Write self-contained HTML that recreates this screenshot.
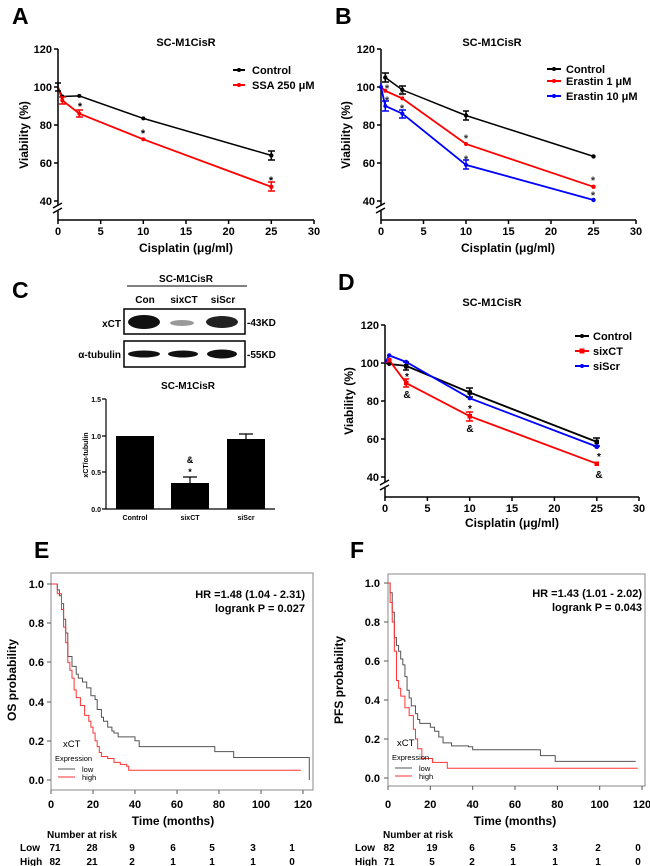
<!DOCTYPE html>
<html><head><meta charset="utf-8"><style>
html,body{margin:0;padding:0;background:#fff}
svg{display:block;font-family:"Liberation Sans",Arial,sans-serif}
.b{font-weight:bold}
.t{font-size:11px;font-weight:bold}
.n{vector-effect:non-scaling-stroke;fill:none}
</style></head><body>
<svg width="650" height="866" viewBox="0 0 650 866" xmlns="http://www.w3.org/2000/svg">
<g class="b" font-size="23">
<text x="12" y="24">A</text><text x="335" y="24">B</text>
<text x="12" y="298">C</text><text x="338" y="290">D</text>
<text x="34" y="558">E</text><text x="350" y="558">F</text>
</g>

<!-- ===== Panel A ===== -->
<g stroke="#000" stroke-width="1.5" fill="none">
<path d="M58,49 V205 M58,211 V220 H314"/>
<path d="M54,49H58 M54,87H58 M54,125H58 M54,163H58 M54,201H58"/>
<path d="M58,220v4 M100.7,220v4 M143.3,220v4 M186,220v4 M228.6,220v4 M271.3,220v4 M314,220v4"/>
<path d="M53,208l9,-5 M53,213l9,-5"/>
</g>
<g class="t" text-anchor="end"><text x="52" y="53">120</text><text x="52" y="91">100</text><text x="52" y="129">80</text><text x="52" y="167">60</text><text x="52" y="205">40</text></g>
<g class="t" text-anchor="middle"><text x="58" y="235">0</text><text x="100.7" y="235">5</text><text x="143.3" y="235">10</text><text x="186" y="235">15</text><text x="228.6" y="235">20</text><text x="271.3" y="235">25</text><text x="314" y="235">30</text></g>
<text class="b" font-size="12" x="186" y="252" text-anchor="middle">Cisplatin (μg/ml)</text>
<text class="b" font-size="12" transform="translate(28,135) rotate(-90)" text-anchor="middle">Viability (%)</text>
<text class="b" font-size="11" x="186" y="46" text-anchor="middle">SC-M1CisR</text>
<polyline points="58,87 62.3,96.5 79.3,95.9 143.3,118.4 271.3,155.4" stroke="#000" stroke-width="1.5" fill="none"/>
<polyline points="58,87 62.3,100.3 79.3,113.6 143.3,139.3 271.3,186.8" stroke="#f00" stroke-width="1.8" fill="none"/>
<g stroke="#000" stroke-width="1.5"><path d="M58,83V91 M55,83H61 M55,91H61 M271.3,151V160 M268,151H275 M268,160H275"/></g>
<g fill="#000"><circle cx="62.3" cy="96.5" r="2"/><circle cx="79.3" cy="95.9" r="2"/><circle cx="143.3" cy="118.4" r="2"/><circle cx="271.3" cy="155.4" r="2.2"/></g>
<g stroke="#f00" stroke-width="1.5"><path d="M62.3,97V104 M59,97H66 M59,104H66 M79.3,110V117 M76,110H83 M76,117H83 M271.3,182V191 M268,182H275 M268,191H275"/></g>
<g fill="#f00"><circle cx="62.3" cy="100.3" r="2"/><circle cx="79.3" cy="113.6" r="2"/><circle cx="143.3" cy="139.3" r="2"/><circle cx="271.3" cy="186.8" r="2.2"/></g>
<g class="b" font-size="11" text-anchor="middle"><text x="80" y="110">*</text><text x="143" y="137">*</text><text x="271" y="184">*</text></g>
<path d="M233,70H245" stroke-width="2" stroke="#000"/><path d="M233,85H245" stroke-width="2" stroke="#f00"/>
<circle cx="239" cy="70" r="2"/><circle cx="239" cy="85" r="2" fill="#f00"/>
<g class="t"><text x="252" y="74">Control</text><text x="252" y="89">SSA 250 μM</text></g>

<!-- ===== Panel B ===== -->
<g stroke="#000" stroke-width="1.5" fill="none">
<path d="M381,49 V205 M381,211 V220 H636"/>
<path d="M377,49H381 M377,87H381 M377,125H381 M377,163H381 M377,201H381"/>
<path d="M381,220v4 M423.5,220v4 M466,220v4 M508.5,220v4 M551,220v4 M593.5,220v4 M636,220v4"/>
<path d="M376,208l9,-5 M376,213l9,-5"/>
</g>
<g class="t" text-anchor="end"><text x="375" y="53">120</text><text x="375" y="91">100</text><text x="375" y="129">80</text><text x="375" y="167">60</text><text x="375" y="205">40</text></g>
<g class="t" text-anchor="middle"><text x="381" y="235">0</text><text x="423.5" y="235">5</text><text x="466" y="235">10</text><text x="508.5" y="235">15</text><text x="551" y="235">20</text><text x="593.5" y="235">25</text><text x="636" y="235">30</text></g>
<text class="b" font-size="12" x="508" y="252" text-anchor="middle">Cisplatin (μg/ml)</text>
<text class="b" font-size="12" transform="translate(350,135) rotate(-90)" text-anchor="middle">Viability (%)</text>
<text class="b" font-size="11" x="492" y="46" text-anchor="middle">SC-M1CisR</text>
<polyline points="385.3,77.5 402.3,89.9 466,115.5 593.5,156.4" stroke="#000" stroke-width="1.5" fill="none"/>
<polyline points="381,87 385.3,90.8 402.3,98.4 466,144 593.5,186.8" stroke="#f00" stroke-width="1.8" fill="none"/>
<polyline points="381,87 385.3,106 402.3,113.6 466,164.9 593.5,200" stroke="#00f" stroke-width="1.8" fill="none"/>
<g stroke="#000" stroke-width="1.5"><path d="M385.3,73V82 M382,73H389 M382,82H389 M402.3,86V94 M399,86H406 M399,94H406 M466,111V120 M463,111H469 M463,120H469"/></g>
<g fill="#000"><circle cx="385.3" cy="77.5" r="2.2"/><circle cx="402.3" cy="89.9" r="2.2"/><circle cx="466" cy="115.5" r="2.2"/><circle cx="593.5" cy="156.4" r="2.2"/></g>
<g fill="#f00"><circle cx="385.3" cy="90.8" r="2"/><circle cx="402.3" cy="98.4" r="2"/><circle cx="466" cy="144" r="2"/><circle cx="593.5" cy="186.8" r="2.2"/></g>
<g stroke="#00f" stroke-width="1.5"><path d="M381,83V90 M385.3,101V111 M382,101H389 M382,111H389 M402.3,110V118 M399,110H406 M399,118H406 M466,160V169 M463,160H469 M463,169H469"/></g>
<g fill="#00f"><circle cx="381" cy="87" r="2"/><circle cx="385.3" cy="106" r="2"/><circle cx="402.3" cy="113.6" r="2"/><circle cx="466" cy="164.9" r="2"/><circle cx="593.5" cy="200" r="2.2"/></g>
<g class="b" font-size="11" text-anchor="middle" fill="#333"><text x="387" y="92">*</text><text x="387" y="104">*</text><text x="402" y="99">*</text><text x="402" y="112">*</text><text x="466" y="142">*</text><text x="466" y="163">*</text><text x="593" y="184">*</text><text x="593" y="199">*</text></g>
<path d="M547,69H561" stroke="#000" stroke-width="2"/><path d="M547,81H561" stroke="#f00" stroke-width="2"/><path d="M547,96H561" stroke="#00f" stroke-width="2"/>
<circle cx="554" cy="69" r="2"/><circle cx="554" cy="81" r="2" fill="#f00"/><circle cx="554" cy="96" r="2" fill="#00f"/>
<g class="t"><text x="566" y="73">Control</text><text x="566" y="85">Erastin 1 μM</text><text x="566" y="100">Erastin 10 μM</text></g>

<!-- ===== Panel C ===== -->
<text class="b" font-size="10" x="186" y="282" text-anchor="middle">SC-M1CisR</text>
<path d="M127,286H247" stroke="#000" stroke-width="1"/>
<g class="b" font-size="10" text-anchor="middle"><text x="145" y="303">Con</text><text x="184" y="303">sixCT</text><text x="223" y="303">siScr</text></g>
<rect x="124" y="309" width="121" height="25" fill="#fff" stroke="#000" stroke-width="1.5"/>
<rect x="124" y="341" width="121" height="26" fill="#fff" stroke="#000" stroke-width="1.5"/>
<ellipse cx="144" cy="322" rx="16" ry="7" fill="#111"/>
<ellipse cx="182" cy="323" rx="12" ry="3" fill="#999"/>
<ellipse cx="222" cy="322" rx="16" ry="6" fill="#222"/>
<ellipse cx="144" cy="354" rx="16" ry="3.5" fill="#111"/>
<ellipse cx="183" cy="354" rx="15" ry="3.5" fill="#111"/>
<ellipse cx="222" cy="354" rx="15" ry="4.5" fill="#111"/>
<g class="b" font-size="10"><text x="121" y="327" text-anchor="end">xCT</text><text x="121" y="358" text-anchor="end">α-tubulin</text><text x="247" y="326">-43KD</text><text x="247" y="358">-55KD</text></g>
<text class="b" font-size="10" x="188" y="389" text-anchor="middle">SC-M1CisR</text>
<path d="M106,399V509H275 M102,399H106 M102,436H106 M102,472H106 M102,509H106" stroke="#000" stroke-width="1.2" fill="none"/>
<g class="b" font-size="7" text-anchor="end"><text x="101" y="402">1.5</text><text x="101" y="439">1.0</text><text x="101" y="475">0.5</text><text x="101" y="512">0.0</text></g>
<text class="b" font-size="7" transform="translate(88,455) rotate(-90)" text-anchor="middle">xCT/α-tubulin</text>
<rect x="116" y="436" width="38" height="73"/>
<rect x="171" y="483" width="38" height="26"/>
<rect x="227" y="439" width="38" height="70"/>
<path d="M190,483V477 M183,477H197 M246,439V434 M239,434H253" stroke="#000" stroke-width="1.2"/>
<g class="b" font-size="9" text-anchor="middle"><text x="190" y="463">&amp;</text><text x="190" y="475">*</text></g>
<g class="b" font-size="7" text-anchor="middle"><text x="135" y="520">Control</text><text x="190" y="520">sixCT</text><text x="246" y="520">siScr</text></g>

<!-- ===== Panel D ===== -->
<g stroke="#000" stroke-width="1.5" fill="none">
<path d="M385,325 V482 M385,488 V497 H639"/>
<path d="M381,325H385 M381,363H385 M381,401H385 M381,439H385 M381,477H385"/>
<path d="M385,497v4 M427.4,497v4 M469.7,497v4 M512,497v4 M554.4,497v4 M596.8,497v4 M639,497v4"/>
<path d="M380,485l9,-5 M380,490l9,-5"/>
</g>
<g class="t" text-anchor="end"><text x="379" y="329">120</text><text x="379" y="367">100</text><text x="379" y="405">80</text><text x="379" y="443">60</text><text x="379" y="481">40</text></g>
<g class="t" text-anchor="middle"><text x="385" y="512">0</text><text x="427.4" y="512">5</text><text x="469.7" y="512">10</text><text x="512" y="512">15</text><text x="554.4" y="512">20</text><text x="596.8" y="512">25</text><text x="639" y="512">30</text></g>
<text class="b" font-size="12" x="512" y="527" text-anchor="middle">Cisplatin (μg/ml)</text>
<text class="b" font-size="12" transform="translate(353,401) rotate(-90)" text-anchor="middle">Viability (%)</text>
<text class="b" font-size="11" x="492" y="306" text-anchor="middle">SC-M1CisR</text>
<polyline points="385,363 389.2,364 406.2,365.9 469.7,392.5 596.8,441.9" stroke="#000" stroke-width="1.8" fill="none"/>
<polyline points="385,363 389.2,360.2 406.2,383 469.7,416.2 596.8,463.7" stroke="#f00" stroke-width="1.8" fill="none"/>
<polyline points="385,363 389.2,355.4 406.2,362 469.7,398.2 596.8,446.6" stroke="#00f" stroke-width="1.8" fill="none"/>
<g stroke="#000" stroke-width="1.5"><path d="M406.2,362V370 M403,362H409 M403,370H409 M469.7,388V397 M466,388H473 M466,397H473 M596.8,438V446 M593,438H600 M593,446H600"/></g>
<g fill="#000"><circle cx="389.2" cy="364" r="2"/><rect x="404" y="364" width="4.5" height="4.5"/><rect x="467.5" y="390.3" width="4.5" height="4.5"/><rect x="594.5" y="439.7" width="4.5" height="4.5"/></g>
<g stroke="#f00" stroke-width="1.5"><path d="M406.2,379V387 M403,379H409 M403,387H409 M469.7,412V421 M466,412H473 M466,421H473"/></g>
<g fill="#f00"><rect x="387" y="358" width="4.5" height="4.5"/><rect x="404" y="380.8" width="4.5" height="4.5"/><rect x="467.5" y="414" width="4.5" height="4.5"/><rect x="594.5" y="461.5" width="4.5" height="4.5"/></g>
<g fill="#00f"><circle cx="389.2" cy="355.4" r="2.2"/><circle cx="406.2" cy="362" r="2.2"/><circle cx="469.7" cy="398.2" r="2.2"/><circle cx="596.8" cy="446.6" r="2.5"/></g>
<g class="b" font-size="10" text-anchor="middle"><text x="407" y="380">*</text><text x="407" y="398">&amp;</text><text x="470" y="412">*</text><text x="470" y="432">&amp;</text><text x="599" y="460">*</text><text x="599" y="478">&amp;</text></g>
<path d="M575,336H589" stroke="#000" stroke-width="2"/><path d="M575,351H589" stroke="#f00" stroke-width="2"/><path d="M575,366H589" stroke="#00f" stroke-width="2"/>
<circle cx="582" cy="336" r="2"/><rect x="579.5" y="348.5" width="5" height="5" fill="#f00"/><circle cx="582" cy="366" r="2" fill="#00f"/>
<g class="t"><text x="593" y="340">Control</text><text x="593" y="355">sixCT</text><text x="593" y="370">siScr</text></g>

<!-- ===== Panel E ===== -->
<rect x="51" y="573" width="262" height="217" fill="none" stroke="#888" stroke-width="1"/>
<path d="M47,584H51 M47,623H51 M47,662H51 M47,702H51 M47,741H51 M47,780H51 M51,790v4 M93,790v4 M135,790v4 M177,790v4 M219,790v4 M261,790v4 M303,790v4" stroke="#555"/>
<g class="t" text-anchor="end" font-size="10"><text x="44" y="588">1.0</text><text x="44" y="627">0.8</text><text x="44" y="666">0.6</text><text x="44" y="706">0.4</text><text x="44" y="745">0.2</text><text x="44" y="784">0.0</text></g>
<g class="t" text-anchor="middle" font-size="10"><text x="51" y="808">0</text><text x="93" y="808">20</text><text x="135" y="808">40</text><text x="177" y="808">60</text><text x="219" y="808">80</text><text x="261" y="808">100</text><text x="303" y="808">120</text></g>
<text class="b" font-size="12" x="173" y="825" text-anchor="middle">Time (months)</text>
<text class="b" font-size="12" transform="translate(16,680) rotate(-90)" text-anchor="middle">OS probability</text>
<g class="b" font-size="11" text-anchor="end"><text x="305" y="598">HR =1.48 (1.04 - 2.31)</text><text x="305" y="612">logrank  P = 0.027</text></g>
<g transform="translate(51,780) scale(2.1,-196)">
<path class="n" stroke="#555" stroke-width="1" d="M0,1H3V0.97H4V0.94H5V0.9H6V0.82H7V0.75H8V0.63H10V0.58H12V0.54H13V0.52H15V0.5H17V0.47H19V0.43H21V0.41H22V0.36H24V0.32H25V0.30H27V0.27H29V0.25H30V0.24H32V0.22H40V0.20H42V0.17H78V0.145H87V0.115H123V0"/>
<path class="n" stroke="#f33" stroke-width="1" d="M0,1H3V0.95H5V0.87H6V0.78H7V0.7H8V0.6H9V0.56H10V0.52H11V0.46H12V0.42H14V0.38H16V0.33H18V0.3H19V0.27H20V0.24H21V0.2H22V0.17H23V0.14H24V0.12H27V0.11H30V0.09H33V0.08H36V0.07H37V0.05H119"/>
</g>
<text x="63" y="747" font-size="9.5">xCT</text>
<text x="55" y="761" font-size="7.5">Expression</text>
<path d="M58,769H75" stroke="#555"/><path d="M58,777H75" stroke="#f33"/>
<text x="82" y="772" font-size="7.5">low</text><text x="82" y="780" font-size="7.5">high</text>
<text class="b" font-size="10" x="47" y="838">Number at risk</text>
<g class="b" font-size="10"><text x="20" y="851">Low</text><text x="20" y="865">High</text></g>
<g class="b" font-size="10" text-anchor="middle">
<text x="55" y="851">71</text><text x="92" y="851">28</text><text x="132" y="851">9</text><text x="173" y="851">6</text><text x="212" y="851">5</text><text x="253" y="851">3</text><text x="292" y="851">1</text>
<text x="55" y="865">82</text><text x="92" y="865">21</text><text x="132" y="865">2</text><text x="173" y="865">1</text><text x="212" y="865">1</text><text x="253" y="865">1</text><text x="292" y="865">0</text>
</g>

<!-- ===== Panel F ===== -->
<rect x="388" y="574" width="257" height="212" fill="none" stroke="#888" stroke-width="1"/>
<path d="M384,583H388 M384,622H388 M384,661H388 M384,700H388 M384,739H388 M384,778H388 M388,786v4 M430.3,786v4 M472.7,786v4 M515,786v4 M557.4,786v4 M599.7,786v4 M642,786v4" stroke="#555"/>
<g class="t" text-anchor="end" font-size="10"><text x="380" y="587">1.0</text><text x="380" y="626">0.8</text><text x="380" y="665">0.6</text><text x="380" y="704">0.4</text><text x="380" y="743">0.2</text><text x="380" y="782">0.0</text></g>
<g class="t" text-anchor="middle" font-size="10"><text x="388" y="808">0</text><text x="430.3" y="808">20</text><text x="472.7" y="808">40</text><text x="515" y="808">60</text><text x="557.4" y="808">80</text><text x="599.7" y="808">100</text><text x="642" y="808">120</text></g>
<text class="b" font-size="12" x="515" y="825" text-anchor="middle">Time (months)</text>
<text class="b" font-size="12" transform="translate(343,680) rotate(-90)" text-anchor="middle">PFS probability</text>
<g class="b" font-size="11" text-anchor="end"><text x="642" y="597">HR =1.43 (1.01 - 2.02)</text><text x="642" y="611">logrank  P = 0.043</text></g>
<g transform="translate(388,778) scale(2.117,-195)">
<path class="n" stroke="#555" stroke-width="1" d="M0,1H1V0.95H2V0.85H3V0.72H4V0.68H5V0.65H6V0.61H7V0.58H8V0.52H9V0.45H10V0.41H11V0.37H13V0.33H14V0.3H15V0.28H20V0.26H22V0.24H24V0.21H26V0.18H30V0.165H38V0.16H40V0.145H72V0.115H79V0.085H117"/>
<path class="n" stroke="#f33" stroke-width="1" d="M0,1H1V0.9H2V0.8H3V0.65H4V0.5H5V0.46H6V0.42H8V0.36H10V0.32H12V0.25H13V0.2H14V0.15H16V0.1H21V0.08H28V0.05H118"/>
</g>
<text x="397" y="746" font-size="9.5">xCT</text>
<text x="392" y="760" font-size="7.5">Expression</text>
<path d="M395,768H412" stroke="#555"/><path d="M395,776H412" stroke="#f33"/>
<text x="419" y="771" font-size="7.5">low</text><text x="419" y="779" font-size="7.5">high</text>
<text class="b" font-size="10" x="383" y="838">Number at risk</text>
<g class="b" font-size="10"><text x="355" y="851">Low</text><text x="355" y="865">High</text></g>
<g class="b" font-size="10" text-anchor="middle">
<text x="389" y="851">82</text><text x="432" y="851">19</text><text x="472" y="851">6</text><text x="513" y="851">5</text><text x="555" y="851">3</text><text x="598" y="851">2</text><text x="638" y="851">0</text>
<text x="389" y="865">71</text><text x="432" y="865">5</text><text x="472" y="865">2</text><text x="513" y="865">1</text><text x="555" y="865">1</text><text x="598" y="865">1</text><text x="638" y="865">0</text>
</g>
</svg>
</body></html>
